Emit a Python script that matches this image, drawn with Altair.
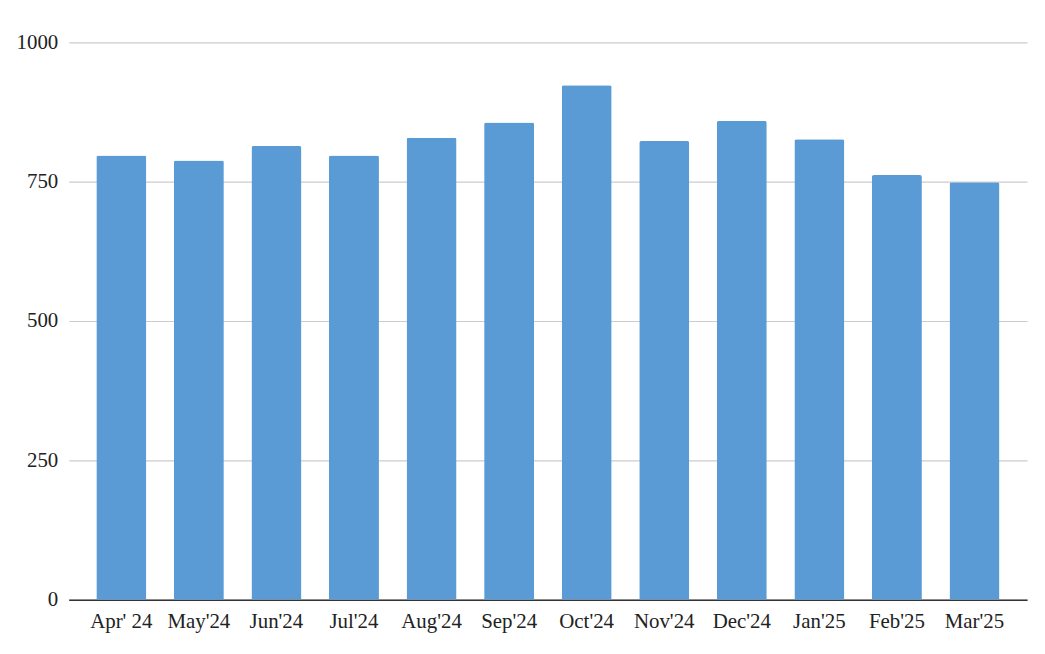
import altair as alt
import pandas as pd

months = ["Apr' 24", "May'24", "Jun'24", "Jul'24", "Aug'24", "Sep'24",
          "Oct'24", "Nov'24", "Dec'24", "Jan'25", "Feb'25", "Mar'25"]
values = [797, 788, 814, 797, 829, 856, 923, 823, 859, 826, 762, 749]

df = pd.DataFrame({"month": months, "value": values})

chart = alt.Chart(df).mark_bar(
    color="#5B9BD5", cornerRadiusTopLeft=2, cornerRadiusTopRight=2
).encode(
    x=alt.X("month:N", sort=months, title=None,
            scale=alt.Scale(paddingInner=0.356, paddingOuter=0.356),
            axis=alt.Axis(labelAngle=0, labelFont="Liberation Serif", labelFontSize=21,
                          labelColor="#222", labelPadding=11, ticks=False,
                          domainColor="#333", domainWidth=1.5, grid=False)),
    y=alt.Y("value:Q", title=None,
            scale=alt.Scale(domain=[0, 1000], nice=False),
            axis=alt.Axis(values=[0, 250, 500, 750, 1000], format="d",
                          labelFont="Liberation Serif",
                          labelFontSize=21, labelColor="#222", labelPadding=11,
                          ticks=False, domain=False, gridColor="#cccccc", gridWidth=1.2)),
).properties(
    width=963, height=560,
    autosize=alt.AutoSizeParams(type="none"),
    padding={"left": 61, "top": 33, "right": 10, "bottom": 40},
).configure(background="white", view=alt.ViewConfig(stroke=None))

chart.save("out.html", embed_options={"renderer": "svg", "actions": False})
